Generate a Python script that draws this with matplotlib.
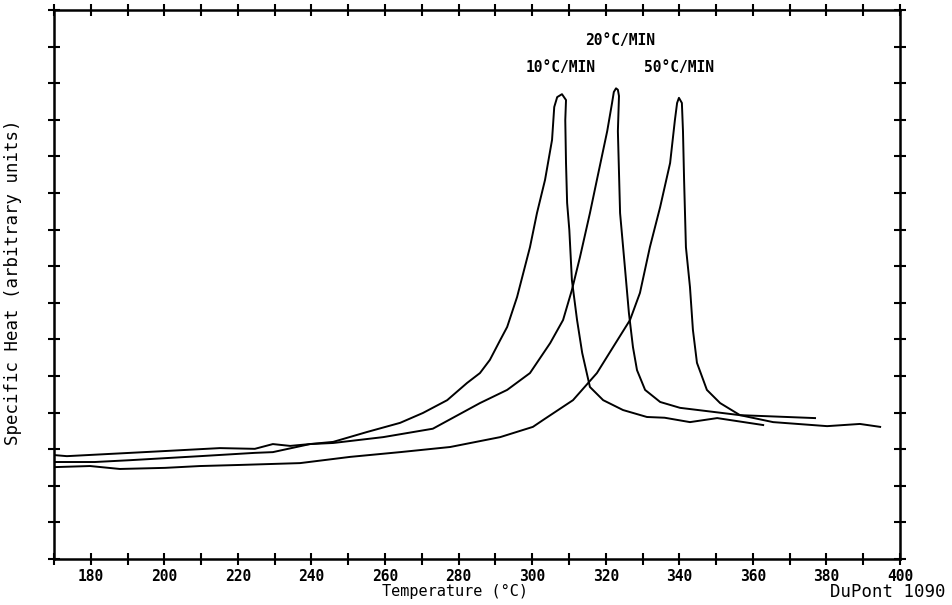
import matplotlib
matplotlib.use("Agg")
import matplotlib.pyplot as plt
from matplotlib.ticker import MultipleLocator, NullFormatter, FixedLocator

# ---- data (temperature in °C, specific heat in arbitrary units) ----
t10 = [170, 173.5, 190.7, 200.2, 215.1, 224.6, 229.5, 234.2, 245.9, 255.1, 264.1,
       270.3, 276.9, 282.3, 285.8, 288.5, 291.3, 293.2, 295.9, 299.4, 301.3, 303.5,
       305.4, 306.0, 306.8, 308.1, 309.2, 309.0, 309.2, 309.5, 310.1, 310.8, 312.2,
       313.6, 315.7, 319.3, 324.7, 331.2, 336.0, 342.9, 350.3, 362.8]
y10 = [2.84, 2.81, 2.90, 2.95, 3.03, 3.01, 3.14, 3.09, 3.20, 3.47, 3.72,
       3.99, 4.34, 4.81, 5.08, 5.44, 5.98, 6.34, 7.16, 8.52, 9.45, 10.36,
       11.45, 12.35, 12.62, 12.70, 12.54, 11.99, 10.82, 9.73, 8.99, 7.62, 6.53,
       5.63, 4.70, 4.34, 4.07, 3.88, 3.86, 3.74, 3.85, 3.66]

t20 = [170, 181.1, 190.7, 209.7, 224.6, 229.5, 239.6, 245.9, 259.5, 273.0, 285.8,
       293.2, 299.4, 304.9, 308.4, 310.8, 313.0, 315.7, 317.6, 320.4, 321.7, 322.2,
       322.8, 323.3, 323.6, 323.3, 323.9, 325.2, 326.3, 327.4, 328.5, 330.7, 334.8,
       340.2, 349.2, 356.5, 369.3, 376.9]
y20 = [2.65, 2.65, 2.70, 2.81, 2.90, 2.92, 3.14, 3.17, 3.33, 3.56, 4.26,
       4.62, 5.08, 5.90, 6.53, 7.35, 8.25, 9.45, 10.36, 11.69, 12.45, 12.76,
       12.86, 12.82, 12.65, 11.69, 9.45, 7.98, 6.72, 5.79, 5.16, 4.62, 4.29,
       4.13, 4.02, 3.93, 3.88, 3.85]

t50 = [170, 179.8, 187.9, 200.2, 209.7, 220.6, 236.9, 250.5, 264.1, 277.7, 291.3,
       300.2, 303.0, 311.1, 317.6, 322.0, 326.6, 329.3, 332.0, 334.8, 337.5, 338.8,
       339.4, 339.9, 340.7, 341.0, 341.3, 341.8, 342.9, 343.7, 344.8, 347.5, 351.1,
       356.5, 365.5, 380.2, 389.1, 394.6]
y50 = [2.51, 2.54, 2.46, 2.49, 2.54, 2.57, 2.62, 2.79, 2.92, 3.06, 3.33,
       3.61, 3.80, 4.34, 5.08, 5.79, 6.53, 7.27, 8.52, 9.62, 10.82, 11.99,
       12.46, 12.60, 12.46, 11.69, 10.36, 8.52, 7.43, 6.26, 5.36, 4.62, 4.26,
       3.93, 3.74, 3.63, 3.69, 3.61]

rate_labels = ["10°C/MIN", "20°C/MIN", "50°C/MIN"]
label_pos_t = [307.6, 323.9, 339.9]
label_pos_y = [13.42, 14.18, 13.42]

x_major = [180, 200, 220, 240, 260, 280, 300, 320, 340, 360, 380, 400]
x_minor = [170, 190, 210, 230, 250, 270, 290, 310, 330, 350, 370, 390]

# ---- figure ----
fig = plt.figure(figsize=(9.52, 6.05), dpi=100)
ax = fig.add_axes([54/952, 46/605, 846/952, 549/605])

for t, y in [(t10, y10), (t20, y20), (t50, y50)]:
    ax.plot(t, y, color="black", lw=1.4, solid_joinstyle="round")

ax.set_xlim(170, 400)
ax.set_ylim(0, 15)

ax.xaxis.set_major_locator(FixedLocator(x_major))
ax.xaxis.set_minor_locator(FixedLocator(x_minor))
ax.yaxis.set_major_locator(MultipleLocator(1))
ax.yaxis.set_major_formatter(NullFormatter())
ax.set_xticklabels([str(v) for v in x_major])

ax.tick_params(which="both", direction="inout", length=8, width=1.5,
               top=True, right=True, colors="black")
ax.tick_params(axis="x", which="major", labelsize=10.5, pad=3)
for lab in ax.get_xticklabels():
    lab.set_fontfamily("DejaVu Sans Mono")
    lab.set_fontweight("bold")

for s in ax.spines.values():
    s.set_linewidth(1.8)

for txt, tx, ty in zip(rate_labels, label_pos_t, label_pos_y):
    ax.text(tx, ty, txt, ha="center", va="center", fontsize=10.5,
            fontweight="bold", family="DejaVu Sans Mono")

ax.set_xlabel("Temperature (°C)", fontsize=11, family="DejaVu Sans Mono")
ax.xaxis.set_label_coords(0.474, -0.045)
ax.set_ylabel("Specific Heat (arbitrary units)", fontsize=12.5,
              family="DejaVu Sans Mono")
ax.yaxis.set_label_coords(-0.038, 0.505)
fig.text(945/952, 1 - 592/605, "DuPont 1090", ha="right", va="center",
         fontsize=12.5, family="DejaVu Sans Mono")

fig.savefig("out.png", dpi=100, facecolor="white")
